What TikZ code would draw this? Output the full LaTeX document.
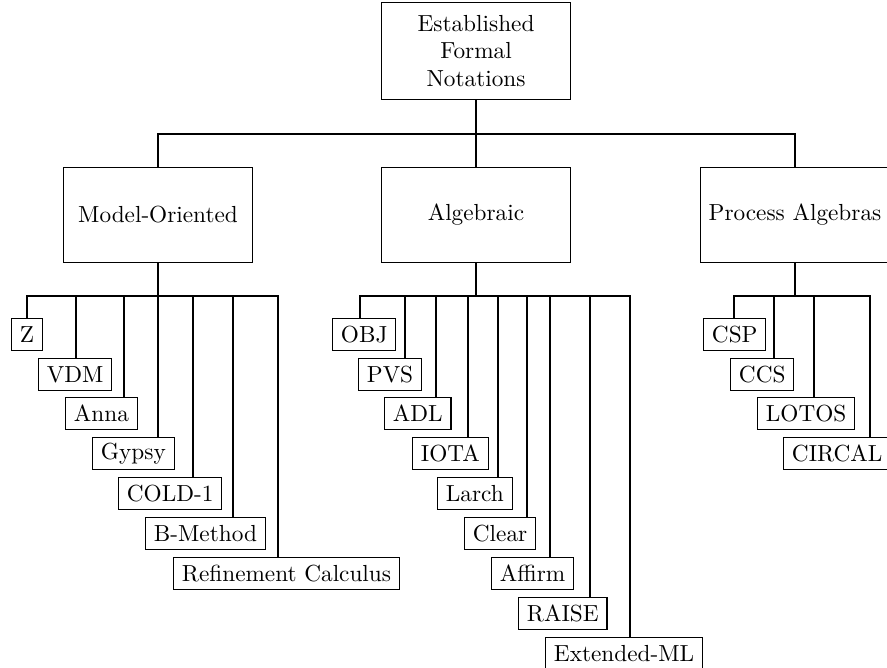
\documentclass[tikz,border=0pt]{standalone}
\usepackage{tikz}
\tikzset{
  bigbox/.style  = {draw,line width=0.5pt,minimum width=81pt,minimum height=41pt,inner sep=0pt,align=center},
  leafbox/.style = {draw,line width=0.5pt,anchor=north west,minimum height=13.8pt,inner xsep=3.6pt,inner ysep=0pt},
  branch/.style  = {line width=0.5pt}
}

\begin{document}
\begin{tikzpicture}[x=0.43pt,y=-0.43pt]
  \useasboundingbox (0,0) rectangle (887,668);
  \node[bigbox,minimum height=42pt] (root) at (476,51) {Established\\Formal\\Notations};
  \node[bigbox] (mo)  at (158,215) {Model-Oriented};
  \node[bigbox] (alg) at (476,215) {Algebraic};
  \node[bigbox] (pa)  at (795,215) {Process Algebras};
  \coordinate (rootbus) at (476,134);
  \foreach \kid in {mo,alg,pa}
    \draw[branch] (root.south) |- (rootbus -| \kid.north) -- (\kid.north);
  % model-oriented
  \node[leafbox] (z)       at (11,318)  {Z};
  \node[leafbox] (vdm)     at (38,358)  {VDM};
  \node[leafbox] (anna)    at (65,397)  {Anna};
  \node[leafbox] (gypsy)   at (92,437)  {Gypsy};
  \node[leafbox] (cold)    at (118,477) {COLD-1};
  \node[leafbox] (bmeth)   at (145,517) {B-Method};
  \node[leafbox] (refcalc) at (173,557) {Refinement Calculus};
  \coordinate (mobus) at (158,296);
  \foreach \kid/\ax in {z/27,vdm/76,anna/124,gypsy/158,cold/193,bmeth/233,refcalc/278}
    \draw[branch] (mo.south) |- (mobus -| \ax,0) -- (\kid.north -| \ax,0);
  % algebraic
  \node[leafbox] (obj)    at (332,318) {OBJ};
  \node[leafbox] (pvs)    at (358,358) {PVS};
  \node[leafbox] (adl)    at (384,397) {ADL};
  \node[leafbox] (iota)   at (412,437) {IOTA};
  \node[leafbox] (larch)  at (437,477) {Larch};
  \node[leafbox] (clear)  at (464,517) {Clear};
  \node[leafbox] (affirm) at (491,557) {Affirm};
  \node[leafbox] (raise)  at (518,597) {RAISE};
  \node[leafbox] (extml)  at (545,637) {Extended-ML};
  \coordinate (algbus) at (476,296);
  \foreach \kid/\ax in {obj/360,pvs/405,adl/436,iota/468,larch/498,clear/527,affirm/550,raise/590,extml/630}
    \draw[branch] (alg.south) |- (algbus -| \ax,0) -- (\kid.north -| \ax,0);
  % process algebras
  \node[leafbox] (csp)    at (703,318) {CSP};
  \node[leafbox] (ccs)    at (730,358) {CCS};
  \node[leafbox] (lotos)  at (757,397) {LOTOS};
  \node[leafbox] (circal) at (783,437) {CIRCAL};
  \coordinate (pabus) at (795,296);
  \foreach \kid/\ax in {csp/734,ccs/774,lotos/814,circal/870}
    \draw[branch] (pa.south) |- (pabus -| \ax,0) -- (\kid.north -| \ax,0);
\end{tikzpicture}
\end{document}
